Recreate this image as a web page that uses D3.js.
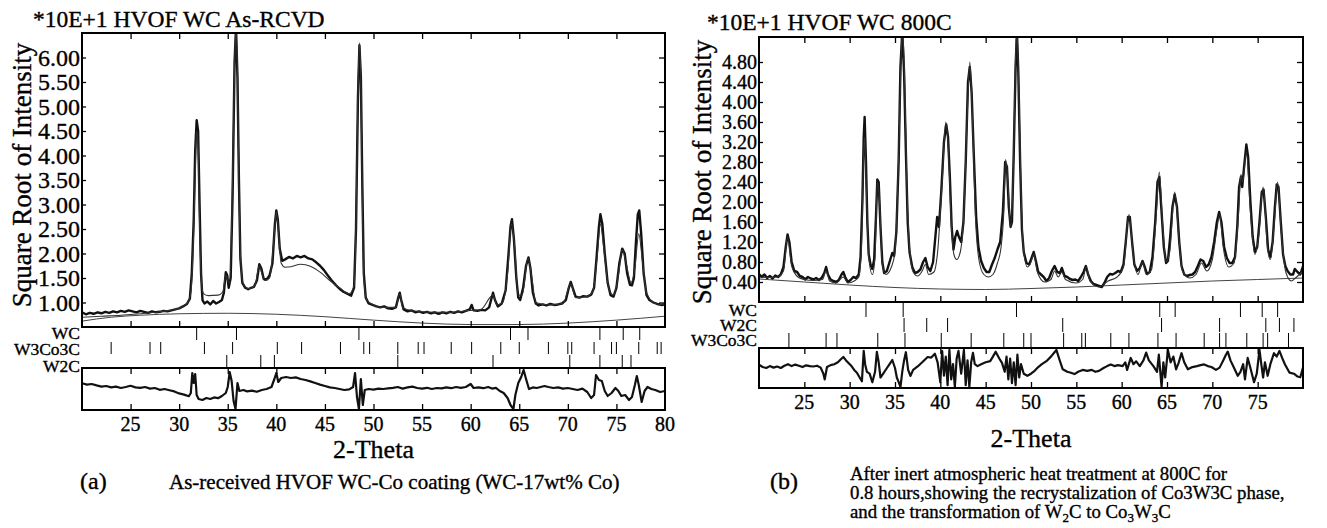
<!DOCTYPE html>
<html>
<head>
<meta charset="utf-8">
<script src="https://cdn.jsdelivr.net/npm/d3@7"></script>
<style>
body { margin: 0; background: #fff; }
text { font-family: "Liberation Serif", "Times New Roman", serif; fill: #000; stroke: #000; stroke-width: 0.35px; }
</style>
</head>
<body>
<svg id="chart" width="1327" height="528"></svg>
<script>
// ---- panel (a): as-received ----
var aTitle = "*10E+1 HVOF WC As-RCVD";
var aYTicks = [1.00, 1.50, 2.00, 2.50, 3.00, 3.50, 4.00, 4.50, 5.00, 5.50, 6.00];
var aXTicks = [25, 30, 35, 40, 45, 50, 55, 60, 65, 70, 75, 80];
var aObs = [[20.0,.80],[20.4,.76],[20.8,.79],[21.2,.77],[21.6,.80],[22.0,.78],[22.4,.81],[22.8,.79],[23.2,.82],[23.6,.80],[24.0,.83],[24.4,.81],[24.8,.84],[25.2,.82],[25.6,.80],[26.0,.83],[26.4,.81],[26.8,.79],[27.2,.82],[27.6,.80],[28.0,.81],[28.4,.83],[28.8,.82],[29.2,.84],[29.6,.86],[30.0,.88],[30.4,.92],[30.8,.97],[31.1,1.08],[31.3,1.6],[31.5,2.7],[31.65,4.1],[31.8,4.72],[31.95,4.5],[32.1,3.0],[32.25,1.6],[32.4,1.05],[32.6,.98],[32.9,1.02],[33.2,.96],[33.5,1.03],[33.8,.98],[34.1,1.01],[34.4,1.05],[34.6,1.2],[34.8,1.62],[34.95,1.55],[35.1,1.3],[35.3,1.5],[35.5,3.2],[35.7,5.9],[35.85,6.6],[36.0,5.6],[36.15,3.5],[36.3,1.9],[36.5,1.4],[36.8,1.3],[37.1,1.27],[37.4,1.3],[37.7,1.32],[38.0,1.45],[38.25,1.78],[38.45,1.7],[38.7,1.48],[39.0,1.47],[39.3,1.55],[39.6,1.8],[39.85,2.6],[40.0,2.88],[40.15,2.7],[40.35,2.1],[40.6,1.85],[40.9,1.88],[41.3,1.93],[41.7,1.9],[42.1,1.95],[42.5,1.92],[42.9,1.95],[43.3,1.9],[43.7,1.88],[44.1,1.82],[44.5,1.75],[44.9,1.66],[45.3,1.55],[45.7,1.45],[46.1,1.36],[46.5,1.28],[46.9,1.22],[47.3,1.18],[47.7,1.14],[48.0,1.3],[48.2,2.5],[48.4,5.2],[48.55,6.25],[48.7,5.6],[48.85,3.4],[49.0,1.6],[49.2,1.1],[49.5,.98],[49.9,.95],[50.3,.92],[50.7,.90],[51.1,.92],[51.5,.88],[51.9,.87],[52.3,.90],[52.55,1.1],[52.7,1.2],[52.85,1.05],[53.1,.86],[53.5,.82],[53.9,.84],[54.3,.80],[54.7,.82],[55.1,.79],[55.5,.81],[55.9,.78],[56.3,.80],[56.7,.77],[57.1,.80],[57.5,.78],[57.9,.81],[58.3,.79],[58.7,.82],[59.1,.80],[59.5,.83],[59.9,.86],[60.1,.95],[60.3,.84],[60.7,.83],[61.1,.85],[61.5,.84],[61.9,.90],[62.1,1.05],[62.3,1.2],[62.5,1.05],[62.8,.92],[63.2,.98],[63.6,1.25],[63.9,2.0],[64.1,2.55],[64.25,2.7],[64.45,2.3],[64.7,1.5],[64.9,1.1],[65.1,1.05],[65.4,1.3],[65.7,1.75],[65.95,1.92],[66.15,1.7],[66.4,1.2],[66.7,.98],[67.0,.94],[67.4,.96],[67.8,.94],[68.2,.97],[68.6,.95],[69.0,.96],[69.4,.98],[69.8,1.05],[70.1,1.3],[70.3,1.42],[70.5,1.3],[70.8,1.12],[71.2,1.10],[71.6,1.13],[72.0,1.12],[72.4,1.16],[72.7,1.3],[72.95,1.9],[73.2,2.55],[73.35,2.8],[73.55,2.6],[73.8,2.0],[74.1,1.4],[74.4,1.15],[74.7,1.12],[75.0,1.3],[75.3,1.8],[75.6,2.1],[75.85,2.0],[76.1,1.6],[76.4,1.36],[76.6,1.35],[76.8,1.5],[77.0,2.2],[77.2,2.8],[77.35,2.88],[77.55,2.4],[77.8,1.6],[78.1,1.15],[78.4,1.05],[78.8,1.0],[79.2,.97],[79.6,.95],[80.0,.96]];
var aCalc = [[20,.70],[22,.72],[24,.74],[26,.77],[28,.81],[29,.84],[30,.88],[30.8,.98],[31.2,1.2],[31.5,2.5],[31.7,4.0],[31.8,4.5],[31.95,4.2],[32.1,2.6],[32.3,1.4],[32.5,1.18],[33,1.14],[34,1.15],[34.5,1.22],[34.8,1.55],[35.0,1.45],[35.2,1.4],[35.45,3.0],[35.7,5.8],[35.85,6.6],[36.0,5.7],[36.15,3.4],[36.35,1.8],[36.6,1.38],[37.2,1.28],[37.8,1.35],[38.25,1.75],[38.5,1.6],[38.8,1.45],[39.3,1.5],[39.8,2.4],[40.0,2.85],[40.2,2.5],[40.5,1.8],[40.9,1.72],[41.5,1.73],[42.5,1.78],[43.5,1.74],[44.5,1.62],[45.5,1.45],[46.5,1.3],[47.5,1.18],[48.0,1.35],[48.2,2.6],[48.4,5.3],[48.55,6.3],[48.7,5.5],[48.85,3.2],[49.0,1.5],[49.3,1.05],[50,.95],[51,.90],[52.3,.90],[52.7,1.18],[53.0,.90],[54,.83],[56,.80],[58,.80],[60,.84],[61,.85],[62.3,1.15],[62.7,.95],[63.3,1.0],[63.8,1.6],[64.2,2.6],[64.5,2.2],[64.9,1.15],[65.3,1.15],[65.9,1.9],[66.3,1.5],[66.7,1.0],[68,.95],[69.5,.98],[70.3,1.38],[70.8,1.1],[72,1.12],[72.6,1.25],[73.0,1.9],[73.35,2.6],[73.7,2.1],[74.2,1.3],[74.7,1.15],[75.2,1.55],[75.6,2.08],[76.0,1.8],[76.5,1.4],[76.9,1.7],[77.3,2.4],[77.7,1.8],[78.1,1.2],[79,.98],[80,.95]];
var aBg = [[20,.62],[23,.70],[26,.74],[30,.77],[35,.78],[40,.76],[45,.71],[50,.64],[55,.58],[60,.55],[65,.55],[70,.58],[75,.64],[80,.72]];
var aDiff = [[20,.29],[20.5,.22],[21,.25],[21.5,.18],[22,.12],[22.5,.15],[23,.08],[23.5,.12],[24,.05],[24.5,.1],[25,.16],[25.5,.08],[26,.06],[26.5,.1],[27,.02],[27.5,.05],[28,-.04],[28.5,0],[29,-.06],[29.5,-.12],[30,-.22],[30.5,-.28],[31,-.36],[31.2,-.2],[31.35,.8],[31.5,.3],[31.65,.75],[31.8,-.3],[32,-.5],[32.4,-.55],[32.8,-.45],[33.2,-.5],[33.6,-.42],[34,-.46],[34.4,-.35],[34.8,-.2],[35.0,.1],[35.2,.85],[35.4,.4],[35.6,-.6],[35.8,-1],[36.0,.3],[36.2,-.1],[36.6,-.05],[37,-.12],[37.5,-.08],[38,-.14],[38.5,-.05],[39,0],[39.5,.1],[39.8,.5],[40.0,.8],[40.2,.35],[40.5,.55],[41,.6],[41.5,.55],[42,.58],[42.5,.5],[43,.45],[43.5,.38],[44,.3],[44.5,.22],[45,.15],[45.5,.08],[46,.05],[46.5,0],[47,-.05],[47.5,-.02],[47.9,.1],[48.1,.8],[48.3,-.4],[48.5,-1],[48.7,.5],[48.9,-.8],[49.1,-.05],[49.5,0],[50,-.03],[50.5,.02],[51,0],[51.5,.03],[52,.06],[52.5,.1],[53,.02],[53.5,.08],[54,.12],[54.5,.05],[55,.02],[55.5,.06],[56,0],[56.5,.05],[57,.03],[57.5,.08],[58,.04],[58.5,.1],[59,.06],[59.5,.1],[60,.25],[60.3,.05],[60.8,.08],[61.3,.04],[61.8,.1],[62.2,.02],[62.6,.06],[63,-.1],[63.4,-.2],[63.8,-.45],[64.1,-.8],[64.4,-1],[64.6,-.3],[64.9,.3],[65.2,.6],[65.45,.95],[65.7,.5],[66,0],[66.4,.08],[66.8,.05],[67.2,.1],[67.6,.15],[68,.1],[68.5,.05],[69,.08],[69.5,.02],[70,.05],[70.5,0],[71,-.05],[71.5,.02],[72,-.15],[72.4,-.45],[72.7,-.3],[72.9,.7],[73.2,.45],[73.5,.4],[73.8,-.1],[74.1,-.35],[74.5,-.2],[74.9,.05],[75.2,-.1],[75.5,-.35],[75.9,-.3],[76.3,-.55],[76.6,-.4],[76.9,.2],[77.1,.65],[77.3,.2],[77.6,-.65],[77.9,-.1],[78.2,.1],[78.6,0],[79,-.05],[79.5,-.15],[80,-.1]];
var aPhases = ["WC", "W3Co3C", "W2C"];
var aWC = [31.8, 35.9, 48.5, 64.1, 65.9, 73.3, 75.7, 77.4];
var aW3Co3C = [23.0, 27.0, 28.1, 32.6, 35.5, 40.1, 42.6, 46.6, 49.0, 49.6, 52.5, 54.6, 55.2, 58.0, 60.1, 63.1, 65.0, 68.0, 70.0, 70.4, 72.7, 74.5, 75.0, 77.3, 79.2, 79.6];
var aW2C = [34.9, 38.4, 39.8, 52.5, 62.3, 70.2, 73.3, 75.6, 76.5];

// ---- panel (b): 800C ----
var bTitle = "*10E+1 HVOF WC 800C";
var bYTicks = [0.40, 0.80, 1.20, 1.60, 2.00, 2.40, 2.80, 3.20, 3.60, 4.00, 4.40, 4.80];
var bXTicks = [25, 30, 35, 40, 45, 50, 55, 60, 65, 70, 75];
var bObs = [[20.0,.56],[20.3,.50],[20.6,.55],[20.9,.48],[21.2,.52],[21.5,.47],[21.8,.53],[22.1,.50],[22.4,.55],[22.7,.70],[22.95,1.1],[23.15,1.35],[23.35,1.2],[23.6,.80],[23.9,.62],[24.2,.60],[24.5,.52],[24.8,.50],[25.1,.45],[25.4,.50],[25.7,.47],[26.0,.45],[26.3,.48],[26.6,.44],[26.9,.48],[27.2,.58],[27.4,.70],[27.6,.55],[27.9,.45],[28.2,.42],[28.5,.40],[28.8,.44],[29.1,.55],[29.3,.60],[29.5,.50],[29.8,.40],[30.1,.44],[30.4,.50],[30.7,.48],[31.0,.55],[31.2,.90],[31.4,2.0],[31.55,3.3],[31.65,3.7],[31.8,2.8],[31.95,1.6],[32.1,.95],[32.3,.75],[32.5,.66],[32.7,.85],[32.9,1.7],[33.05,2.45],[33.2,2.4],[33.4,1.5],[33.6,.80],[33.8,.58],[34.1,.62],[34.4,.80],[34.7,.98],[34.9,.92],[35.15,1.4],[35.4,2.8],[35.6,4.7],[35.8,5.4],[36.0,4.6],[36.2,3.0],[36.4,1.6],[36.6,1.0],[36.9,.70],[37.2,.58],[37.5,.60],[37.8,.65],[38.1,.80],[38.35,.88],[38.6,.70],[38.9,.62],[39.2,.80],[39.45,1.3],[39.65,1.7],[39.85,1.5],[40.1,2.2],[40.4,3.2],[40.65,3.55],[40.85,3.3],[41.05,2.5],[41.25,1.5],[41.45,1.05],[41.65,1.3],[41.85,1.42],[42.05,1.3],[42.3,1.2],[42.55,1.6],[42.8,2.8],[43.05,4.4],[43.25,4.7],[43.45,4.2],[43.7,2.9],[43.95,1.7],[44.2,1.1],[44.5,.82],[44.8,.68],[45.1,.60],[45.4,.60],[45.7,.75],[46.0,.88],[46.3,1.05],[46.6,1.2],[46.9,1.8],[47.15,2.8],[47.35,2.7],[47.55,1.9],[47.75,1.5],[47.9,1.6],[48.1,3.0],[48.3,4.7],[48.45,5.4],[48.6,4.6],[48.8,2.8],[49.0,1.45],[49.2,1.0],[49.5,.78],[49.8,.75],[50.1,.90],[50.3,1.0],[50.5,.85],[50.8,.60],[51.1,.55],[51.4,.50],[51.7,.42],[52.0,.48],[52.3,.62],[52.6,.72],[52.9,.60],[53.2,.58],[53.4,.68],[53.7,.52],[54.0,.50],[54.3,.46],[54.6,.44],[54.9,.45],[55.2,.42],[55.5,.50],[55.8,.60],[56.05,.72],[56.3,.55],[56.6,.42],[56.9,.36],[57.2,.34],[57.5,.32],[57.8,.30],[58.1,.38],[58.4,.50],[58.7,.56],[59.0,.55],[59.3,.58],[59.6,.62],[59.9,.60],[60.2,.75],[60.45,1.2],[60.7,1.7],[60.9,1.7],[61.15,1.2],[61.4,.75],[61.7,.62],[62.0,.68],[62.3,.82],[62.55,.70],[62.8,.56],[63.1,.60],[63.4,.90],[63.7,1.6],[63.95,2.4],[64.15,2.5],[64.4,1.8],[64.65,1.1],[64.9,.78],[65.1,.82],[65.35,1.3],[65.6,1.9],[65.85,2.15],[66.1,1.9],[66.35,1.2],[66.6,.72],[66.9,.55],[67.2,.52],[67.5,.54],[67.8,.55],[68.1,.60],[68.4,.72],[68.7,.85],[69.0,.82],[69.3,.70],[69.6,.75],[69.9,.90],[70.2,1.2],[70.5,1.6],[70.75,1.8],[71.0,1.6],[71.3,1.1],[71.6,.88],[71.9,.78],[72.2,.78],[72.5,.90],[72.75,1.5],[72.95,2.3],[73.15,2.5],[73.3,2.3],[73.5,2.7],[73.75,3.15],[73.95,2.9],[74.2,2.0],[74.45,1.3],[74.7,1.0],[74.95,1.1],[75.2,1.6],[75.45,2.2],[75.65,2.25],[75.9,1.7],[76.15,1.05],[76.4,.90],[76.65,1.2],[76.9,1.9],[77.1,2.35],[77.3,2.3],[77.55,1.6],[77.8,.95],[78.05,.72],[78.3,.62],[78.6,.55],[78.9,.55],[79.1,.66],[79.4,.60],[79.7,.55],[80.0,.72]];
var bCalc = [[20,.50],[21,.49],[22,.50],[22.7,.62],[23.15,1.3],[23.6,.72],[24.3,.50],[25,.45],[26,.43],[27,.45],[27.4,.62],[27.8,.42],[28.5,.38],[29.3,.50],[29.8,.38],[30.5,.42],[31,.50],[31.3,1.1],[31.55,3.0],[31.65,3.3],[31.8,2.5],[32.1,.90],[32.5,.55],[32.8,.90],[33.05,2.4],[33.3,2.0],[33.6,.75],[34,.55],[34.6,.70],[35,1.0],[35.4,2.9],[35.7,5.0],[35.85,5.4],[36.05,4.5],[36.3,2.4],[36.6,1.1],[37,.60],[37.5,.52],[38.0,.62],[38.35,.75],[38.7,.55],[39.3,.60],[39.7,1.0],[40.2,2.4],[40.6,3.6],[40.9,3.0],[41.2,1.6],[41.5,.95],[41.8,.85],[42.2,1.0],[42.6,1.8],[43.0,3.9],[43.25,4.8],[43.5,3.9],[43.9,1.6],[44.3,.80],[44.8,.55],[45.3,.50],[45.8,.55],[46.3,.78],[46.7,1.1],[47.0,1.8],[47.2,2.85],[47.45,2.4],[47.75,1.5],[48.05,2.6],[48.3,4.9],[48.45,5.4],[48.65,4.3],[48.9,2.2],[49.2,1.0],[49.6,.70],[50.0,.80],[50.3,.95],[50.7,.60],[51.5,.40],[52.2,.45],[52.6,.62],[53.0,.50],[53.4,.60],[53.8,.45],[55,.38],[55.7,.45],[56.1,.70],[56.5,.42],[57.5,.30],[58.5,.42],[59.5,.50],[60.2,.70],[60.8,1.75],[61.3,.90],[61.8,.55],[62.3,.80],[62.7,.55],[63.3,.65],[63.8,1.7],[64.15,2.6],[64.5,1.6],[64.9,.80],[65.3,1.0],[65.85,2.2],[66.3,1.3],[66.7,.62],[67.5,.48],[68.2,.55],[68.8,.78],[69.4,.62],[70.0,.85],[70.5,1.45],[70.8,1.75],[71.2,1.1],[71.8,.70],[72.4,.78],[72.9,1.8],[73.15,2.55],[73.35,2.4],[73.75,3.0],[74.2,1.8],[74.7,.95],[75.1,1.3],[75.6,2.3],[76.1,1.05],[76.4,.85],[76.8,1.5],[77.2,2.4],[77.6,1.4],[78.1,.60],[78.7,.42],[79.3,.50],[80,.62]];
var bBg = [[20,.46],[25,.40],[30,.34],[35,.29],[40,.26],[45,.25],[50,.27],[55,.30],[60,.34],[65,.38],[70,.42],[75,.45],[80,.48]];
var bDiff = [[20,.17],[20.4,.05],[20.8,0],[21.2,.1],[21.6,.02],[22,.08],[22.4,0],[22.8,.12],[23.2,.2],[23.6,.1],[24,.18],[24.4,.12],[24.8,.05],[25.2,.14],[25.6,.1],[26,.08],[26.4,.12],[26.8,.02],[27.1,-.3],[27.25,-.6],[27.5,.05],[27.9,.15],[28.3,.2],[28.7,.3],[29.0,.45],[29.3,.58],[29.6,.4],[29.9,.25],[30.2,.1],[30.5,-.1],[30.8,-.25],[31.1,-.5],[31.35,-.7],[31.55,.9],[31.7,.2],[31.9,-.2],[32.2,-.3],[32.5,-.75],[32.8,-.2],[33.0,.85],[33.2,.3],[33.4,-.5],[33.7,-.3],[34.0,-.08],[34.4,.2],[34.7,.42],[35.0,0],[35.2,-.5],[35.45,-.8],[35.6,-1],[35.8,-.2],[36.0,.4],[36.2,.83],[36.45,-.1],[36.7,-.42],[37.0,-.1],[37.5,.08],[38.0,.3],[38.6,.58],[39.0,.55],[39.4,.75],[39.7,.3],[40.0,-.75],[40.2,.9],[40.4,-.4],[40.6,.6],[40.8,-.9],[41.0,.95],[41.2,-.6],[41.4,.2],[41.6,-1],[41.8,.5],[42.0,.9],[42.3,-.3],[42.6,.95],[42.8,-.9],[43.0,.4],[43.2,-1],[43.4,.3],[43.6,.8],[43.8,.2],[44.1,.1],[44.5,.2],[45.0,.3],[45.5,.36],[45.8,.6],[46.1,.86],[46.5,.5],[46.8,.27],[47.1,-.2],[47.3,.6],[47.5,-.6],[47.7,.5],[47.9,-.8],[48.1,.3],[48.3,-.9],[48.5,.7],[48.7,-.5],[48.9,.2],[49.2,-.3],[49.6,-.41],[50.0,-.3],[50.4,-.15],[50.8,.05],[51.2,.2],[51.7,.36],[52.2,.6],[52.8,.95],[53.1,.5],[53.5,-.07],[54.0,-.2],[54.4,-.25],[54.8,-.32],[55.2,-.2],[55.7,-.1],[56.2,-.15],[56.7,-.1],[57.1,-.2],[57.5,-.15],[58,0],[58.4,.1],[58.8,.19],[59.2,.1],[59.6,.15],[60.1,.1],[60.4,.3],[60.6,-.1],[61.0,.53],[61.3,.2],[61.6,.35],[62.0,.1],[62.4,.4],[62.7,.81],[63.0,.4],[63.5,.1],[63.9,-.2],[64.1,.7],[64.4,-1],[64.6,.3],[64.8,-.5],[65.1,.95],[65.4,.3],[65.7,.6],[66.0,-.07],[66.3,.3],[66.6,.78],[66.9,.3],[67.3,-.07],[67.8,.05],[68.3,.1],[68.7,.15],[69.1,.19],[69.5,.1],[69.9,.05],[70.4,-.1],[70.8,.02],[71.2,.4],[71.5,.7],[71.7,.86],[72.0,.4],[72.4,0],[72.8,-.41],[73.1,-.2],[73.4,.2],[73.6,-.6],[73.9,.53],[74.2,0],[74.6,-.75],[74.9,-.3],[75.2,.95],[75.4,.2],[75.6,-.5],[75.8,.3],[76.1,-.41],[76.4,.2],[76.8,.78],[77.1,.6],[77.4,.9],[77.7,.53],[78.0,.2],[78.5,-.24],[79.0,-.3],[79.4,-.45],[79.7,-.49],[80,.02]];
var bPhases = ["WC", "W2C", "W3Co3C"];
var bWC = [31.8, 35.9, 48.4, 64.2, 65.9, 73.1, 75.5, 77.2];
var bW2C = [36.0, 38.5, 40.8, 53.5, 64.4, 70.8, 75.9, 77.4, 79.0];
var bW3Co3C = [23.3, 27.4, 28.6, 33.1, 36.1, 40.1, 43.4, 47.0, 49.2, 50.0, 53.6, 55.6, 56.0, 58.8, 60.8, 64.0, 66.0, 69.1, 70.8, 71.5, 73.8, 75.6, 76.1, 78.4];

var svg = d3.select("#chart");
svg.append("rect").attr("width", 1327).attr("height", 528).attr("fill", "#fff");

function drawPanel(p) {
  var g = svg.append("g");
  var x = d3.scaleLinear().domain([20, 80]).range([p.left, p.right]);
  var y = d3.scaleLinear().domain(p.yDomain).range([p.bottom, p.top]);
  var yr = d3.scaleLinear().domain([-1, 1]).range([p.resBottom - 1, p.resTop + 1]);

  var clipMain = p.id + "-main", clipRes = p.id + "-res";
  g.append("clipPath").attr("id", clipMain).append("rect")
    .attr("x", p.left).attr("y", p.top).attr("width", p.right - p.left).attr("height", p.bottom - p.top);
  g.append("clipPath").attr("id", clipRes).append("rect")
    .attr("x", p.left).attr("y", p.resTop).attr("width", p.right - p.left).attr("height", p.resBottom - p.resTop);

  var line = d3.line().x(function(d){ return x(d[0]); }).y(function(d){ return y(d[1]); });
  var smooth = d3.line().x(function(d){ return x(d[0]); }).y(function(d){ return y(d[1]); }).curve(d3.curveMonotoneX);
  var rline = d3.line().x(function(d){ return x(d[0]); }).y(function(d){ return yr(d[1]); });

  var plot = g.append("g").attr("clip-path", "url(#" + clipMain + ")");
  plot.append("path").attr("d", smooth(p.bg)).attr("fill", "none").attr("stroke", "#444").attr("stroke-width", 1);
  plot.append("path").attr("d", line(p.obs)).attr("fill", "none").attr("stroke", "#111")
    .attr("stroke-width", 2.4).attr("stroke-linejoin", "round");
  plot.append("path").attr("d", smooth(p.calc)).attr("fill", "none").attr("stroke", "#333").attr("stroke-width", 1.1);

  // main frame + inward ticks
  g.append("rect").attr("x", p.left).attr("y", p.top).attr("width", p.right - p.left).attr("height", p.bottom - p.top)
    .attr("fill", "none").attr("stroke", "#000").attr("stroke-width", 2);
  var inner = p.xTicks.filter(function(t){ return t < 80; });
  g.append("g").attr("transform", "translate(0," + p.top + ")")
    .call(d3.axisBottom(x).tickValues(inner).tickSize(6).tickFormat(""))
    .call(function(s){ s.select(".domain").remove(); });
  g.append("g").attr("transform", "translate(0," + p.bottom + ")")
    .call(d3.axisTop(x).tickValues(inner).tickSize(6).tickFormat(""))
    .call(function(s){ s.select(".domain").remove(); });
  g.append("g").attr("transform", "translate(" + p.right + ",0)")
    .call(d3.axisLeft(y).tickValues(p.yTicks).tickSize(6).tickFormat(""))
    .call(function(s){ s.select(".domain").remove(); });
  g.append("g").attr("transform", "translate(" + p.left + ",0)")
    .call(d3.axisRight(y).tickValues(p.yTicks).tickSize(4).tickFormat(""))
    .call(function(s){ s.select(".domain").remove(); });
  g.selectAll(".tick line").attr("stroke", "#000").attr("stroke-width", 1.3);

  g.selectAll(null).data(p.yTicks).enter().append("text")
    .attr("x", p.left - 2).attr("y", function(d){ return y(d); }).attr("dy", "0.34em")
    .attr("text-anchor", "end").style("font-size", p.yTickFont + "px")
    .text(d3.format(".2f"));

  // Bragg reflection markers
  p.rows.forEach(function(r){
    g.selectAll(null).data(r.pos).enter().append("line")
      .attr("x1", function(d){ return x(d); }).attr("x2", function(d){ return x(d); })
      .attr("y1", r.y0).attr("y2", r.y1).attr("stroke", "#000").attr("stroke-width", 1);
    g.append("text").attr("x", p.left - 2).attr("y", r.ty).attr("text-anchor", "end")
      .style("font-size", p.phaseFont + "px").text(r.name);
  });

  // difference curve box
  g.append("g").attr("clip-path", "url(#" + clipRes + ")").append("path")
    .attr("d", rline(p.diff)).attr("fill", "none").attr("stroke", "#111")
    .attr("stroke-width", 2.2).attr("stroke-linejoin", "round");
  g.append("rect").attr("x", p.left).attr("y", p.resTop).attr("width", p.right - p.left).attr("height", p.resBottom - p.resTop)
    .attr("fill", "none").attr("stroke", "#000").attr("stroke-width", 2);
  g.append("g").attr("transform", "translate(0," + p.resTop + ")")
    .call(d3.axisBottom(x).tickValues(inner).tickSize(6).tickFormat(""))
    .call(function(s){ s.select(".domain").remove(); });
  g.append("g").attr("transform", "translate(0," + p.resBottom + ")")
    .call(d3.axisTop(x).tickValues(inner).tickSize(6).tickFormat(""))
    .call(function(s){ s.select(".domain").remove(); });
  g.selectAll(".tick line").attr("stroke", "#000").attr("stroke-width", 1.3);

  g.selectAll(null).data(p.xTicks).enter().append("text")
    .attr("x", function(d){ return x(d); }).attr("y", p.xTickY)
    .attr("text-anchor", "middle").style("font-size", p.xTickFont + "px")
    .text(function(d){ return d; });

  g.append("text").attr("x", (p.left + p.right) / 2).attr("y", p.xLabelY).attr("text-anchor", "middle")
    .style("font-size", "26px").text("2-Theta");
  g.append("text").attr("transform", "translate(" + p.yLabelX + "," + p.yLabelY + ") rotate(-90)")
    .attr("text-anchor", "middle").style("font-size", "27px").text("Square Root of Intensity");
  g.append("text").attr("x", p.titleX).attr("y", p.titleY).style("font-size", "23.5px").text(p.title);
}

drawPanel({
  id: "pa", left: 82, right: 665, top: 33, bottom: 327, yDomain: [0.5, 6.5],
  resTop: 368, resBottom: 410,
  obs: aObs, calc: aCalc, bg: aBg, diff: aDiff,
  yTicks: aYTicks, xTicks: aXTicks, yTickFont: 24, xTickFont: 20, phaseFont: 17.5,
  rows: [
    { name: aPhases[0], pos: aWC, y0: 328, y1: 340, ty: 339 },
    { name: aPhases[1], pos: aW3Co3C, y0: 342, y1: 354, ty: 355 },
    { name: aPhases[2], pos: aW2C, y0: 355, y1: 367, ty: 372 }
  ],
  xTickY: 431, xLabelY: 458, yLabelX: 31, yLabelY: 175,
  title: aTitle, titleX: 33, titleY: 27
});

drawPanel({
  id: "pb", left: 759, right: 1303, top: 37, bottom: 302, yDomain: [0, 5.3],
  resTop: 348, resBottom: 388,
  obs: bObs, calc: bCalc, bg: bBg, diff: bDiff,
  yTicks: bYTicks, xTicks: bXTicks, yTickFont: 20, xTickFont: 20, phaseFont: 17.5,
  rows: [
    { name: bPhases[0], pos: bWC, y0: 303, y1: 317, ty: 316 },
    { name: bPhases[1], pos: bW2C, y0: 318, y1: 332, ty: 331 },
    { name: bPhases[2], pos: bW3Co3C, y0: 333, y1: 347, ty: 346 }
  ],
  xTickY: 409, xLabelY: 447, yLabelX: 711, yLabelY: 172,
  title: bTitle, titleX: 707, titleY: 30
});

// captions
svg.append("text").attr("x", 80).attr("y", 489).style("font-size", "24px").text("(a)");
svg.append("text").attr("x", 169).attr("y", 489).style("font-size", "21px")
  .text("As-received HVOF WC-Co coating (WC-17wt% Co)");
svg.append("text").attr("x", 770).attr("y", 489).style("font-size", "24px").text("(b)");
var cap = svg.append("g").style("font-size", "18.8px");
cap.append("text").attr("x", 850).attr("y", 480).text("After inert atmospheric heat treatment at 800C for");
cap.append("text").attr("x", 850).attr("y", 499).text("0.8 hours,showing the recrystalization of Co3W3C phase,");
var l3 = cap.append("text").attr("x", 850).attr("y", 518);
l3.append("tspan").text("and the transformation of W");
l3.append("tspan").attr("dy", 4).style("font-size", "13px").text("2");
l3.append("tspan").attr("dy", -4).text("C  to Co");
l3.append("tspan").attr("dy", 4).style("font-size", "13px").text("3");
l3.append("tspan").attr("dy", -4).text("W");
l3.append("tspan").attr("dy", 4).style("font-size", "13px").text("3");
l3.append("tspan").attr("dy", -4).text("C");
</script>
</body>
</html>
